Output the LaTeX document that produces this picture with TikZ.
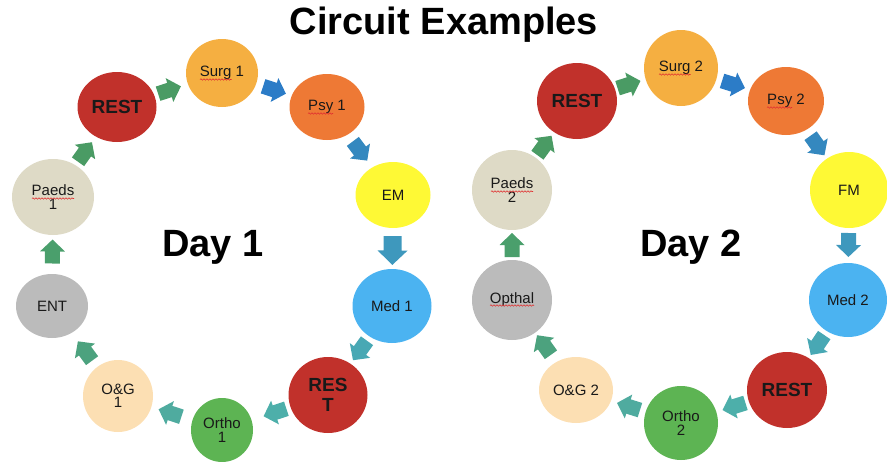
\documentclass[tikz,border=0pt]{standalone}
\usepackage{fontspec}
\setmainfont{Liberation Sans}
\usetikzlibrary{shapes.geometric,calc,decorations.pathmorphing}

\definecolor{restred}{HTML}{C1312B}
\definecolor{surgc}{HTML}{F5AF41}
\definecolor{psyc}{HTML}{EE7935}
\definecolor{emc}{HTML}{FEF935}
\definecolor{medc}{HTML}{4BB3F1}
\definecolor{orthoc}{HTML}{5DB453}
\definecolor{ogc}{HTML}{FCDFB3}
\definecolor{entc}{HTML}{BBBBBB}
\definecolor{paedsc}{HTML}{DEDAC6}
\definecolor{spellred}{HTML}{E03030}

\definecolor{ga}{HTML}{4A9B64}
\definecolor{ba}{HTML}{2C7CC7}
\definecolor{bb}{HTML}{3488BF}
\definecolor{bc}{HTML}{3E98BD}
\definecolor{ta}{HTML}{48A8B4}
\definecolor{tb}{HTML}{4DAFAA}
\definecolor{tc}{HTML}{4FAB9F}
\definecolor{gb}{HTML}{4CA27E}
\definecolor{gc}{HTML}{4A9F6C}

\tikzset{
  station/.style={ellipse, inner sep=0pt, align=center, text=black!90,
    font=\fontsize{15}{13.5}\selectfont},
  rest/.style={station, fill=restred, font=\bfseries\fontsize{19}{20}\selectfont},
  heading/.style={font=\bfseries\fontsize{38}{40}\selectfont, anchor=base},
  daylabel/.style={font=\bfseries\fontsize{38}{40}\selectfont, anchor=base},
  squiggle/.style={draw=spellred, line width=0.6pt,
    decorate, decoration={snake, segment length=3pt, amplitude=0.7pt}},
  blk/.pic={\fill[#1] (-12,-7.5) -- (0,-7.5) -- (0,-12.5) -- (12,0) -- (0,12.5) -- (0,7.5) -- (-12,7.5) -- cycle;}
}

\newcommand\flow[4][1]{\path let \p1=(#2), \p2=(#3), \n1={atan2(\y2-\y1,\x2-\x1)} in ($(#2)!0.5!(#3)$) pic[rotate=\n1, scale=#1] {blk=#4};}
\newcommand\squig[4]{\path[squiggle] ($(#1.center)+(#2,#4)$) -- ($(#1.center)+(#3,#4)$);}

\begin{document}
\begin{tikzpicture}[x=1pt,y=-1pt]
\useasboundingbox (0,0) rectangle (887,461);

\node[heading] (title) at (444,34) {Circuit Examples};
\node[daylabel] (day1) at (213,256) {Day 1};
\node[daylabel] (day2) at (691,256) {Day 2};

% Day 1
\node[rest, minimum width=79pt, minimum height=70pt] (r1a) at (117,107) {REST};
\node[station, fill=surgc, minimum width=72pt, minimum height=68pt] (s1) at (222,73) {Surg 1};
\node[station, fill=psyc, minimum width=75pt, minimum height=66pt] (p1) at (327,107) {Psy 1};
\node[station, fill=emc, minimum width=75pt, minimum height=66pt] (em) at (393,195) {EM};
\node[station, fill=medc, minimum width=79pt, minimum height=74pt] (m1) at (392,306) {Med 1};
\node[rest, minimum width=79pt, minimum height=76pt] (r1b) at (328,395) {RES\\T};
\node[station, fill=orthoc, minimum width=62pt, minimum height=64pt] (o1) at (222,430) {Ortho\\1};
\node[station, fill=ogc, minimum width=70pt, minimum height=72pt] (g1) at (118,396) {O\&G\\1};
\node[station, fill=entc, minimum width=72pt, minimum height=64pt] (ent) at (52,306) {ENT};
\node[station, fill=paedsc, minimum width=82pt, minimum height=76pt] (pd1) at (53,197) {Paeds\\1};

\squig{s1}{-22}{9.5}{6.5}
\squig{p1}{-19}{6}{6.5}
\squig{pd1}{-21}{21}{1.5}

\flow{r1a}{s1}{ga}
\flow{s1}{p1}{ba}
\flow{p1}{em}{bb}
\flow[1.2]{em}{m1}{bc}
\flow{m1}{r1b}{ta}
\flow{r1b}{o1}{tb}
\flow{o1}{g1}{tc}
\flow{g1}{ent}{gb}
\flow{ent}{pd1}{gc}
\flow{pd1}{r1a}{ga}

% Day 2
\node[rest, minimum width=80pt, minimum height=76pt] (r2a) at (577,101) {REST};
\node[station, fill=surgc, minimum width=74pt, minimum height=76pt] (s2) at (681,68) {Surg 2};
\node[station, fill=psyc, minimum width=76pt, minimum height=68pt] (p2) at (786,101) {Psy 2};
\node[station, fill=emc, minimum width=78pt, minimum height=76pt] (fm) at (849,190) {FM};
\node[station, fill=medc, minimum width=78pt, minimum height=74pt] (m2) at (848,300) {Med 2};
\node[rest, minimum width=80pt, minimum height=76pt] (r2b) at (787,390) {REST};
\node[station, fill=orthoc, minimum width=74pt, minimum height=74pt] (o2) at (681,423) {Ortho\\2};
\node[station, fill=ogc, minimum width=74pt, minimum height=66pt] (g2) at (576,390) {O\&G 2};
\node[station, fill=entc, minimum width=80pt, minimum height=80pt] (oph) at (512,300) {Opthal};
\node[station, fill=paedsc, minimum width=80pt, minimum height=80pt] (pd2) at (512,190) {Paeds\\2};

\squig{s2}{-22}{9.5}{6.5}
\squig{p2}{-19}{6}{6.5}
\squig{oph}{-22}{22}{5.5}
\squig{pd2}{-21}{21}{1.5}

\flow{r2a}{s2}{ga}
\flow{s2}{p2}{ba}
\flow{p2}{fm}{bb}
\flow{fm}{m2}{bc}
\flow{m2}{r2b}{ta}
\flow{r2b}{o2}{tb}
\flow{o2}{g2}{tc}
\flow{g2}{oph}{gb}
\flow{oph}{pd2}{gc}
\flow{pd2}{r2a}{ga}
\end{tikzpicture}
\end{document}
